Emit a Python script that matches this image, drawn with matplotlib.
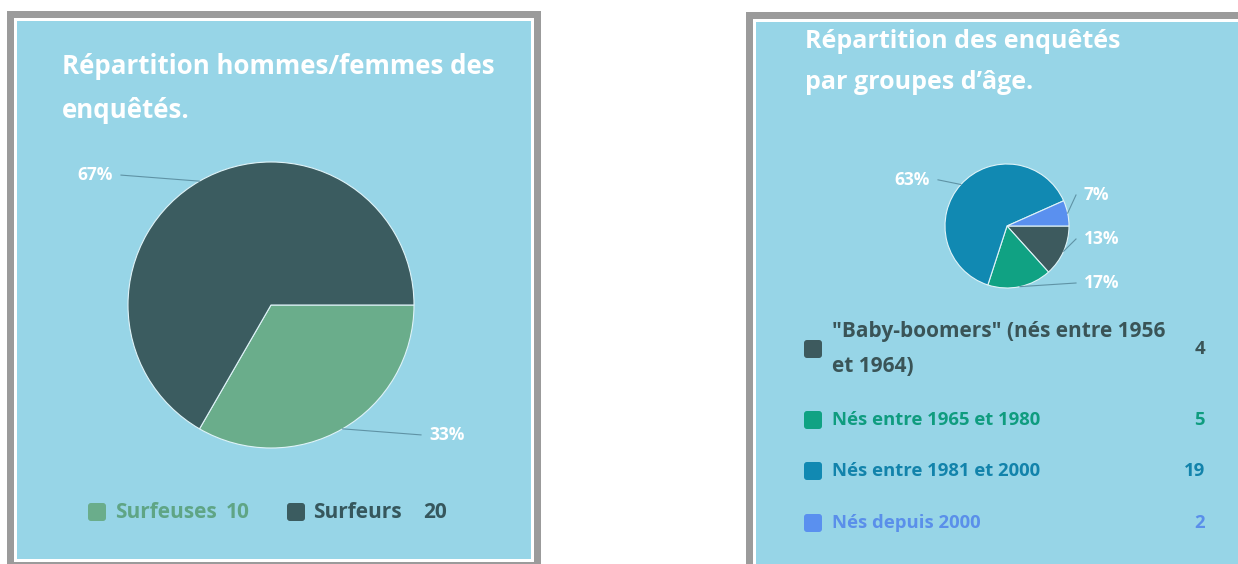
import numpy as np
import matplotlib.pyplot as plt
from matplotlib.patches import Rectangle, FancyBboxPatch

# --- data ---
genre_labels = ["Surfeuses", "Surfeurs"]
genre_counts = [10, 20]
genre_title = ["Répartition hommes/femmes des", "enquêtés."]

age_labels = ['"Baby-boomers" (nés entre 1956\net 1964)',
              "Nés entre 1965 et 1980",
              "Nés entre 1981 et 2000",
              "Nés depuis 2000"]
age_counts = [4, 5, 19, 2]
age_title = ["Répartition des enquêtés", "par groupes d’âge."]

# --- style ---
BG = "#97d5e7"
BORDER = "#9b9b9b"
LEADER = "#5f93a5"
genre_colors = ["#6aad8b", "#3b5c60"]
genre_text = ["#5fa585", "#36575d"]
age_colors = ["#3d5a5e", "#10a283", "#1189b2", "#5a90ef"]
age_text = ["#3a5457", "#0f9c7f", "#1283ab", "#5a8fea"]
FONT = "Open Sans"

W, H = 1238, 564
fig = plt.figure(figsize=(W / 100, H / 100), dpi=100)
canvas = fig.add_axes([0, 0, 1, 1])
canvas.set_xlim(0, W)
canvas.set_ylim(H, 0)
canvas.axis("off")


def panel(x0, y0, x1, y1):
    # grey frame, thin white gap, light blue card
    canvas.add_patch(Rectangle((x0, y0), x1 - x0, y1 - y0, fc=BORDER, ec="none"))
    canvas.add_patch(Rectangle((x0 + 7, y0 + 7), x1 - x0 - 14, y1 - y0 - 14, fc="white", ec="none"))
    canvas.add_patch(Rectangle((x0 + 10, y0 + 10), x1 - x0 - 20, y1 - y0 - 20, fc=BG, ec="none"))


def lines(x, y, text, gap, **kw):
    # one text per line so that each baseline sits where it should
    for i, t in enumerate(text):
        canvas.text(x, y + i * gap, t, family=FONT, fontweight="bold", va="baseline", **kw)


def pie(cx, cy, r, counts, colors):
    ax = fig.add_axes([(cx - r) / W, 1 - (cy + r) / H, 2 * r / W, 2 * r / H])
    wedges, _ = ax.pie(counts, colors=colors, startangle=0, counterclock=False, radius=1,
                       wedgeprops=dict(edgecolor="#dff3f8", linewidth=0.8))
    ax.set_xlim(-1, 1)
    ax.set_ylim(-1, 1)
    ax.axis("off")

    # percentage labels outside, spread vertically like the web chart does
    px = 1 / r
    total = sum(counts)
    items = []
    for w, v in zip(wedges, counts):
        th = np.deg2rad((w.theta1 + w.theta2) / 2)
        side = 1 if np.cos(th) >= 0 else -1
        items.append([side, (1 + 7 * px) * np.sin(th), th, f"{round(100 * v / total)}%"])
    for side in (1, -1):
        group = sorted([it for it in items if it[0] == side], key=lambda it: it[1])
        prev = None
        for it in group:
            it[1] = max(it[1], -(1 - 5 * px)) if prev is None else max(it[1], prev + 44 * px)
            prev = it[1]
    for side, y, th, txt in items:
        ax.plot([np.cos(th), side * (1 + 7 * px)], [np.sin(th), y],
                color=LEADER, lw=0.8, clip_on=False)
        ax.text(side * (1 + 15 * px), y, txt, ha="left" if side > 0 else "right",
                va="center", color="white", fontsize=12.5, fontweight="bold",
                family=FONT, clip_on=False)
    return ax


def square(x, y, color):
    canvas.add_patch(FancyBboxPatch((x + 2, y - 7), 14, 14, boxstyle="round,pad=2,rounding_size=3",
                                    fc=color, ec="none"))


# ---------- left card ----------
panel(7, 11, 541, 569)
lines(62, 74, genre_title, 44, color="white", fontsize=18.6)
pie(271, 305, 143, genre_counts, genre_colors)

legend_x = [(88, 115, 226), (287, 313, 423)]
for (sx, tx, vx), lab, v, c, tc in zip(legend_x, genre_labels, genre_counts, genre_colors, genre_text):
    square(sx, 512, c)
    canvas.text(tx, 512, lab, color=tc, fontsize=15, fontweight="bold", family=FONT, va="center")
    canvas.text(vx, 512, str(v), color=tc, fontsize=15, fontweight="bold", family=FONT, va="center")

# ---------- right card ----------
panel(746, 12, 1300, 620)
lines(805, 48, age_title, 41, color="white", fontsize=18)
pie(1007, 226, 62, age_counts, age_colors)

row_y = [349, 420, 471, 523]
for y, lab, v, c, tc in zip(row_y, age_labels, age_counts, age_colors, age_text):
    square(804, y, c)
    parts = lab.split("\n")
    size = 15 if len(parts) > 1 else 13.3
    base = y + 5 - (len(parts) - 1) * 35 / 2
    lines(832, base, parts, 35, color=tc, fontsize=size)
    canvas.text(1205, y, str(v), color=tc, fontsize=13.3, fontweight="bold", family=FONT,
                va="center", ha="right")

fig.savefig("out.png", dpi=100, facecolor="white")
